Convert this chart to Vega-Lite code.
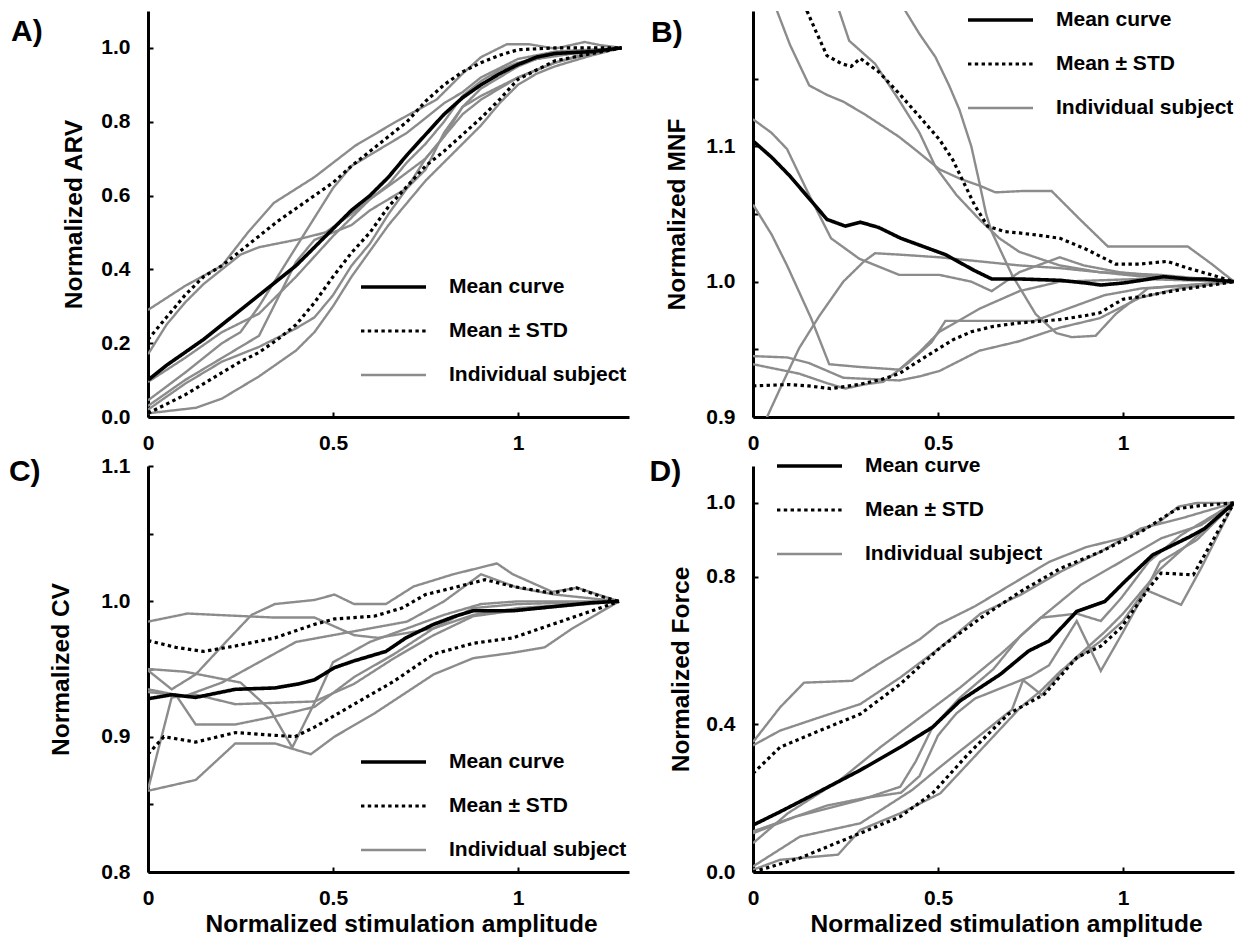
{
  "$schema": "https://vega.github.io/schema/vega-lite/v6.json",
  "padding": {"left": 8, "top": 8, "right": 5, "bottom": 2},
  "background": "white",
  "config": {
    "view": {"stroke": null},
    "font": "Liberation Sans",
    "axis": {"domainColor": "#000000", "domainWidth": 3, "tickColor": "#000000", "tickWidth": 2, "tickSize": -5, "labelFont": "Liberation Sans", "labelFontSize": 21, "labelFontWeight": "bold", "labelColor": "#000000", "titleFont": "Liberation Sans", "titleFontSize": 24.5, "titleFontWeight": "bold", "titleColor": "#000000", "grid": false, "labelFlush": false, "labelOverlap": false},
    "axisX": {"labelPadding": 20},
    "axisY": {"labelPadding": 23},
    "legend": {"symbolType": "stroke", "symbolSize": 4225, "labelFont": "Liberation Sans", "labelFontSize": 21, "labelFontWeight": "bold", "labelColor": "#000000", "labelOffset": 21, "labelLimit": 400, "clipHeight": 24, "rowPadding": 20, "padding": 0, "symbolOpacity": 1}
  },
  "resolve": {"scale": {"color": "independent", "strokeDash": "independent", "strokeWidth": "independent"}},
  "align": "each",
  "columns": 2,
  "spacing": {"row": 1, "column": 20},
  "datasets": {
    "A": [
      {"s":"G1","t":"Individual subject","x":0,"y":0.29},{"s":"G1","t":"Individual subject","x":0.1,"y":0.355},{"s":"G1","t":"Individual subject","x":0.2,"y":0.41},{"s":"G1","t":"Individual subject","x":0.27,"y":0.5},{"s":"G1","t":"Individual subject","x":0.34,"y":0.58},{"s":"G1","t":"Individual subject","x":0.45,"y":0.65},{"s":"G1","t":"Individual subject","x":0.56,"y":0.735},{"s":"G1","t":"Individual subject","x":0.67,"y":0.8},{"s":"G1","t":"Individual subject","x":0.78,"y":0.86},{"s":"G1","t":"Individual subject","x":0.85,"y":0.93},{"s":"G1","t":"Individual subject","x":0.9,"y":0.975},{"s":"G1","t":"Individual subject","x":0.97,"y":1.01},{"s":"G1","t":"Individual subject","x":1.03,"y":1.01},{"s":"G1","t":"Individual subject","x":1.1,"y":0.998},{"s":"G1","t":"Individual subject","x":1.18,"y":1.016},{"s":"G1","t":"Individual subject","x":1.22,"y":1.008},{"s":"G1","t":"Individual subject","x":1.28,"y":1.0},
      {"s":"G2","t":"Individual subject","x":0,"y":0.17},{"s":"G2","t":"Individual subject","x":0.05,"y":0.25},{"s":"G2","t":"Individual subject","x":0.1,"y":0.31},{"s":"G2","t":"Individual subject","x":0.15,"y":0.36},{"s":"G2","t":"Individual subject","x":0.2,"y":0.4},{"s":"G2","t":"Individual subject","x":0.25,"y":0.44},{"s":"G2","t":"Individual subject","x":0.3,"y":0.46},{"s":"G2","t":"Individual subject","x":0.4,"y":0.48},{"s":"G2","t":"Individual subject","x":0.48,"y":0.5},{"s":"G2","t":"Individual subject","x":0.55,"y":0.55},{"s":"G2","t":"Individual subject","x":0.6,"y":0.59},{"s":"G2","t":"Individual subject","x":0.67,"y":0.64},{"s":"G2","t":"Individual subject","x":0.75,"y":0.7},{"s":"G2","t":"Individual subject","x":0.8,"y":0.76},{"s":"G2","t":"Individual subject","x":0.85,"y":0.84},{"s":"G2","t":"Individual subject","x":0.9,"y":0.89},{"s":"G2","t":"Individual subject","x":0.95,"y":0.92},{"s":"G2","t":"Individual subject","x":1.0,"y":0.95},{"s":"G2","t":"Individual subject","x":1.05,"y":0.97},{"s":"G2","t":"Individual subject","x":1.15,"y":0.985},{"s":"G2","t":"Individual subject","x":1.28,"y":1.0},
      {"s":"G3","t":"Individual subject","x":0,"y":0.045},{"s":"G3","t":"Individual subject","x":0.1,"y":0.12},{"s":"G3","t":"Individual subject","x":0.2,"y":0.2},{"s":"G3","t":"Individual subject","x":0.25,"y":0.23},{"s":"G3","t":"Individual subject","x":0.3,"y":0.3},{"s":"G3","t":"Individual subject","x":0.35,"y":0.38},{"s":"G3","t":"Individual subject","x":0.4,"y":0.46},{"s":"G3","t":"Individual subject","x":0.45,"y":0.54},{"s":"G3","t":"Individual subject","x":0.5,"y":0.62},{"s":"G3","t":"Individual subject","x":0.55,"y":0.68},{"s":"G3","t":"Individual subject","x":0.6,"y":0.71},{"s":"G3","t":"Individual subject","x":0.7,"y":0.77},{"s":"G3","t":"Individual subject","x":0.8,"y":0.85},{"s":"G3","t":"Individual subject","x":0.85,"y":0.88},{"s":"G3","t":"Individual subject","x":0.9,"y":0.92},{"s":"G3","t":"Individual subject","x":1.0,"y":0.97},{"s":"G3","t":"Individual subject","x":1.1,"y":0.99},{"s":"G3","t":"Individual subject","x":1.28,"y":1.0},
      {"s":"G4","t":"Individual subject","x":0,"y":0.03},{"s":"G4","t":"Individual subject","x":0.1,"y":0.1},{"s":"G4","t":"Individual subject","x":0.2,"y":0.16},{"s":"G4","t":"Individual subject","x":0.3,"y":0.22},{"s":"G4","t":"Individual subject","x":0.35,"y":0.32},{"s":"G4","t":"Individual subject","x":0.4,"y":0.42},{"s":"G4","t":"Individual subject","x":0.45,"y":0.48},{"s":"G4","t":"Individual subject","x":0.5,"y":0.5},{"s":"G4","t":"Individual subject","x":0.55,"y":0.52},{"s":"G4","t":"Individual subject","x":0.6,"y":0.56},{"s":"G4","t":"Individual subject","x":0.7,"y":0.62},{"s":"G4","t":"Individual subject","x":0.75,"y":0.67},{"s":"G4","t":"Individual subject","x":0.8,"y":0.77},{"s":"G4","t":"Individual subject","x":0.85,"y":0.84},{"s":"G4","t":"Individual subject","x":0.9,"y":0.87},{"s":"G4","t":"Individual subject","x":1.0,"y":0.92},{"s":"G4","t":"Individual subject","x":1.1,"y":0.96},{"s":"G4","t":"Individual subject","x":1.2,"y":0.985},{"s":"G4","t":"Individual subject","x":1.28,"y":1.0},
      {"s":"G5","t":"Individual subject","x":0,"y":0.02},{"s":"G5","t":"Individual subject","x":0.1,"y":0.09},{"s":"G5","t":"Individual subject","x":0.2,"y":0.15},{"s":"G5","t":"Individual subject","x":0.3,"y":0.19},{"s":"G5","t":"Individual subject","x":0.4,"y":0.24},{"s":"G5","t":"Individual subject","x":0.45,"y":0.27},{"s":"G5","t":"Individual subject","x":0.5,"y":0.33},{"s":"G5","t":"Individual subject","x":0.55,"y":0.41},{"s":"G5","t":"Individual subject","x":0.6,"y":0.47},{"s":"G5","t":"Individual subject","x":0.65,"y":0.55},{"s":"G5","t":"Individual subject","x":0.7,"y":0.62},{"s":"G5","t":"Individual subject","x":0.75,"y":0.7},{"s":"G5","t":"Individual subject","x":0.8,"y":0.76},{"s":"G5","t":"Individual subject","x":0.85,"y":0.82},{"s":"G5","t":"Individual subject","x":0.9,"y":0.86},{"s":"G5","t":"Individual subject","x":1.0,"y":0.92},{"s":"G5","t":"Individual subject","x":1.1,"y":0.96},{"s":"G5","t":"Individual subject","x":1.2,"y":0.99},{"s":"G5","t":"Individual subject","x":1.28,"y":1.0},
      {"s":"G6","t":"Individual subject","x":0,"y":0.01},{"s":"G6","t":"Individual subject","x":0.13,"y":0.025},{"s":"G6","t":"Individual subject","x":0.2,"y":0.05},{"s":"G6","t":"Individual subject","x":0.3,"y":0.11},{"s":"G6","t":"Individual subject","x":0.4,"y":0.18},{"s":"G6","t":"Individual subject","x":0.45,"y":0.23},{"s":"G6","t":"Individual subject","x":0.5,"y":0.3},{"s":"G6","t":"Individual subject","x":0.55,"y":0.38},{"s":"G6","t":"Individual subject","x":0.6,"y":0.45},{"s":"G6","t":"Individual subject","x":0.65,"y":0.52},{"s":"G6","t":"Individual subject","x":0.7,"y":0.58},{"s":"G6","t":"Individual subject","x":0.75,"y":0.64},{"s":"G6","t":"Individual subject","x":0.8,"y":0.69},{"s":"G6","t":"Individual subject","x":0.85,"y":0.74},{"s":"G6","t":"Individual subject","x":0.9,"y":0.79},{"s":"G6","t":"Individual subject","x":0.95,"y":0.85},{"s":"G6","t":"Individual subject","x":1.0,"y":0.9},{"s":"G6","t":"Individual subject","x":1.05,"y":0.93},{"s":"G6","t":"Individual subject","x":1.1,"y":0.95},{"s":"G6","t":"Individual subject","x":1.2,"y":0.98},{"s":"G6","t":"Individual subject","x":1.28,"y":1.0},
      {"s":"G7","t":"Individual subject","x":0,"y":0.095},{"s":"G7","t":"Individual subject","x":0.1,"y":0.16},{"s":"G7","t":"Individual subject","x":0.2,"y":0.23},{"s":"G7","t":"Individual subject","x":0.3,"y":0.28},{"s":"G7","t":"Individual subject","x":0.4,"y":0.38},{"s":"G7","t":"Individual subject","x":0.5,"y":0.49},{"s":"G7","t":"Individual subject","x":0.6,"y":0.59},{"s":"G7","t":"Individual subject","x":0.65,"y":0.63},{"s":"G7","t":"Individual subject","x":0.7,"y":0.69},{"s":"G7","t":"Individual subject","x":0.75,"y":0.74},{"s":"G7","t":"Individual subject","x":0.8,"y":0.8},{"s":"G7","t":"Individual subject","x":0.85,"y":0.87},{"s":"G7","t":"Individual subject","x":0.9,"y":0.91},{"s":"G7","t":"Individual subject","x":0.95,"y":0.94},{"s":"G7","t":"Individual subject","x":1.0,"y":0.96},{"s":"G7","t":"Individual subject","x":1.1,"y":0.98},{"s":"G7","t":"Individual subject","x":1.28,"y":1.0},
      {"s":"U","t":"Mean ± STD","x":0,"y":0.21},{"s":"U","t":"Mean ± STD","x":0.05,"y":0.27},{"s":"U","t":"Mean ± STD","x":0.1,"y":0.33},{"s":"U","t":"Mean ± STD","x":0.15,"y":0.38},{"s":"U","t":"Mean ± STD","x":0.2,"y":0.41},{"s":"U","t":"Mean ± STD","x":0.25,"y":0.45},{"s":"U","t":"Mean ± STD","x":0.3,"y":0.49},{"s":"U","t":"Mean ± STD","x":0.35,"y":0.53},{"s":"U","t":"Mean ± STD","x":0.4,"y":0.565},{"s":"U","t":"Mean ± STD","x":0.45,"y":0.6},{"s":"U","t":"Mean ± STD","x":0.5,"y":0.635},{"s":"U","t":"Mean ± STD","x":0.55,"y":0.68},{"s":"U","t":"Mean ± STD","x":0.6,"y":0.72},{"s":"U","t":"Mean ± STD","x":0.65,"y":0.76},{"s":"U","t":"Mean ± STD","x":0.7,"y":0.8},{"s":"U","t":"Mean ± STD","x":0.75,"y":0.855},{"s":"U","t":"Mean ± STD","x":0.8,"y":0.9},{"s":"U","t":"Mean ± STD","x":0.85,"y":0.935},{"s":"U","t":"Mean ± STD","x":0.9,"y":0.96},{"s":"U","t":"Mean ± STD","x":0.95,"y":0.98},{"s":"U","t":"Mean ± STD","x":1.0,"y":0.995},{"s":"U","t":"Mean ± STD","x":1.1,"y":1.0},{"s":"U","t":"Mean ± STD","x":1.2,"y":1.0},{"s":"U","t":"Mean ± STD","x":1.28,"y":1.0},
      {"s":"L","t":"Mean ± STD","x":0,"y":0.01},{"s":"L","t":"Mean ± STD","x":0.05,"y":0.035},{"s":"L","t":"Mean ± STD","x":0.1,"y":0.06},{"s":"L","t":"Mean ± STD","x":0.15,"y":0.09},{"s":"L","t":"Mean ± STD","x":0.2,"y":0.12},{"s":"L","t":"Mean ± STD","x":0.25,"y":0.15},{"s":"L","t":"Mean ± STD","x":0.3,"y":0.175},{"s":"L","t":"Mean ± STD","x":0.35,"y":0.21},{"s":"L","t":"Mean ± STD","x":0.4,"y":0.25},{"s":"L","t":"Mean ± STD","x":0.45,"y":0.31},{"s":"L","t":"Mean ± STD","x":0.5,"y":0.38},{"s":"L","t":"Mean ± STD","x":0.55,"y":0.445},{"s":"L","t":"Mean ± STD","x":0.6,"y":0.5},{"s":"L","t":"Mean ± STD","x":0.65,"y":0.57},{"s":"L","t":"Mean ± STD","x":0.7,"y":0.625},{"s":"L","t":"Mean ± STD","x":0.75,"y":0.68},{"s":"L","t":"Mean ± STD","x":0.8,"y":0.72},{"s":"L","t":"Mean ± STD","x":0.85,"y":0.765},{"s":"L","t":"Mean ± STD","x":0.9,"y":0.81},{"s":"L","t":"Mean ± STD","x":0.95,"y":0.86},{"s":"L","t":"Mean ± STD","x":1.0,"y":0.915},{"s":"L","t":"Mean ± STD","x":1.05,"y":0.94},{"s":"L","t":"Mean ± STD","x":1.1,"y":0.965},{"s":"L","t":"Mean ± STD","x":1.2,"y":0.985},{"s":"L","t":"Mean ± STD","x":1.28,"y":1.0},
      {"s":"M","t":"Mean curve","x":0,"y":0.1},{"s":"M","t":"Mean curve","x":0.05,"y":0.14},{"s":"M","t":"Mean curve","x":0.1,"y":0.175},{"s":"M","t":"Mean curve","x":0.15,"y":0.21},{"s":"M","t":"Mean curve","x":0.2,"y":0.25},{"s":"M","t":"Mean curve","x":0.25,"y":0.29},{"s":"M","t":"Mean curve","x":0.3,"y":0.33},{"s":"M","t":"Mean curve","x":0.35,"y":0.37},{"s":"M","t":"Mean curve","x":0.4,"y":0.41},{"s":"M","t":"Mean curve","x":0.45,"y":0.46},{"s":"M","t":"Mean curve","x":0.5,"y":0.51},{"s":"M","t":"Mean curve","x":0.55,"y":0.56},{"s":"M","t":"Mean curve","x":0.6,"y":0.6},{"s":"M","t":"Mean curve","x":0.65,"y":0.65},{"s":"M","t":"Mean curve","x":0.7,"y":0.71},{"s":"M","t":"Mean curve","x":0.75,"y":0.765},{"s":"M","t":"Mean curve","x":0.8,"y":0.82},{"s":"M","t":"Mean curve","x":0.85,"y":0.865},{"s":"M","t":"Mean curve","x":0.9,"y":0.9},{"s":"M","t":"Mean curve","x":0.95,"y":0.93},{"s":"M","t":"Mean curve","x":1.0,"y":0.955},{"s":"M","t":"Mean curve","x":1.05,"y":0.975},{"s":"M","t":"Mean curve","x":1.1,"y":0.985},{"s":"M","t":"Mean curve","x":1.2,"y":0.99},{"s":"M","t":"Mean curve","x":1.28,"y":1.0}
    ],
    "B": [
      {"s":"G1","t":"Individual subject","x":0.04,"y":1.25},{"s":"G1","t":"Individual subject","x":0.065,"y":1.2},{"s":"G1","t":"Individual subject","x":0.1,"y":1.175},{"s":"G1","t":"Individual subject","x":0.152,"y":1.145},{"s":"G1","t":"Individual subject","x":0.2,"y":1.138},{"s":"G1","t":"Individual subject","x":0.244,"y":1.133},{"s":"G1","t":"Individual subject","x":0.3,"y":1.124},{"s":"G1","t":"Individual subject","x":0.395,"y":1.107},{"s":"G1","t":"Individual subject","x":0.45,"y":1.095},{"s":"G1","t":"Individual subject","x":0.504,"y":1.083},{"s":"G1","t":"Individual subject","x":0.56,"y":1.076},{"s":"G1","t":"Individual subject","x":0.612,"y":1.071},{"s":"G1","t":"Individual subject","x":0.655,"y":1.066},{"s":"G1","t":"Individual subject","x":0.73,"y":1.067},{"s":"G1","t":"Individual subject","x":0.807,"y":1.067},{"s":"G1","t":"Individual subject","x":0.88,"y":1.047},{"s":"G1","t":"Individual subject","x":0.959,"y":1.026},{"s":"G1","t":"Individual subject","x":1.05,"y":1.026},{"s":"G1","t":"Individual subject","x":1.175,"y":1.026},{"s":"G1","t":"Individual subject","x":1.24,"y":1.013},{"s":"G1","t":"Individual subject","x":1.3,"y":1.0},
      {"s":"G2","t":"Individual subject","x":0.21,"y":1.25},{"s":"G2","t":"Individual subject","x":0.233,"y":1.2},{"s":"G2","t":"Individual subject","x":0.26,"y":1.178},{"s":"G2","t":"Individual subject","x":0.33,"y":1.161},{"s":"G2","t":"Individual subject","x":0.395,"y":1.134},{"s":"G2","t":"Individual subject","x":0.45,"y":1.11},{"s":"G2","t":"Individual subject","x":0.493,"y":1.085},{"s":"G2","t":"Individual subject","x":0.55,"y":1.064},{"s":"G2","t":"Individual subject","x":0.612,"y":1.046},{"s":"G2","t":"Individual subject","x":0.666,"y":1.032},{"s":"G2","t":"Individual subject","x":0.72,"y":1.022},{"s":"G2","t":"Individual subject","x":0.829,"y":1.012},{"s":"G2","t":"Individual subject","x":0.937,"y":1.007},{"s":"G2","t":"Individual subject","x":1.045,"y":1.004},{"s":"G2","t":"Individual subject","x":1.3,"y":1.0},
      {"s":"G3","t":"Individual subject","x":0.39,"y":1.25},{"s":"G3","t":"Individual subject","x":0.412,"y":1.2},{"s":"G3","t":"Individual subject","x":0.45,"y":1.183},{"s":"G3","t":"Individual subject","x":0.493,"y":1.166},{"s":"G3","t":"Individual subject","x":0.53,"y":1.145},{"s":"G3","t":"Individual subject","x":0.558,"y":1.127},{"s":"G3","t":"Individual subject","x":0.59,"y":1.1},{"s":"G3","t":"Individual subject","x":0.612,"y":1.073},{"s":"G3","t":"Individual subject","x":0.63,"y":1.05},{"s":"G3","t":"Individual subject","x":0.645,"y":1.037},{"s":"G3","t":"Individual subject","x":0.7,"y":1.005},{"s":"G3","t":"Individual subject","x":0.764,"y":0.976},{"s":"G3","t":"Individual subject","x":0.82,"y":0.962},{"s":"G3","t":"Individual subject","x":0.861,"y":0.959},{"s":"G3","t":"Individual subject","x":0.926,"y":0.96},{"s":"G3","t":"Individual subject","x":0.98,"y":0.976},{"s":"G3","t":"Individual subject","x":1.067,"y":0.995},{"s":"G3","t":"Individual subject","x":1.3,"y":1.0},
      {"s":"G4","t":"Individual subject","x":0,"y":1.12},{"s":"G4","t":"Individual subject","x":0.05,"y":1.11},{"s":"G4","t":"Individual subject","x":0.092,"y":1.098},{"s":"G4","t":"Individual subject","x":0.15,"y":1.065},{"s":"G4","t":"Individual subject","x":0.211,"y":1.032},{"s":"G4","t":"Individual subject","x":0.287,"y":1.017},{"s":"G4","t":"Individual subject","x":0.395,"y":1.005},{"s":"G4","t":"Individual subject","x":0.504,"y":1.005},{"s":"G4","t":"Individual subject","x":0.59,"y":1.0},{"s":"G4","t":"Individual subject","x":0.645,"y":0.993},{"s":"G4","t":"Individual subject","x":0.72,"y":1.007},{"s":"G4","t":"Individual subject","x":0.829,"y":1.018},{"s":"G4","t":"Individual subject","x":0.894,"y":1.012},{"s":"G4","t":"Individual subject","x":0.99,"y":1.007},{"s":"G4","t":"Individual subject","x":1.1,"y":1.004},{"s":"G4","t":"Individual subject","x":1.3,"y":1.0},
      {"s":"G5","t":"Individual subject","x":0,"y":1.057},{"s":"G5","t":"Individual subject","x":0.05,"y":1.035},{"s":"G5","t":"Individual subject","x":0.092,"y":1.012},{"s":"G5","t":"Individual subject","x":0.157,"y":0.973},{"s":"G5","t":"Individual subject","x":0.206,"y":0.939},{"s":"G5","t":"Individual subject","x":0.287,"y":0.937},{"s":"G5","t":"Individual subject","x":0.395,"y":0.935},{"s":"G5","t":"Individual subject","x":0.45,"y":0.948},{"s":"G5","t":"Individual subject","x":0.504,"y":0.963},{"s":"G5","t":"Individual subject","x":0.612,"y":0.98},{"s":"G5","t":"Individual subject","x":0.72,"y":0.993},{"s":"G5","t":"Individual subject","x":0.829,"y":1.0},{"s":"G5","t":"Individual subject","x":1.045,"y":1.002},{"s":"G5","t":"Individual subject","x":1.3,"y":1.0},
      {"s":"G6","t":"Individual subject","x":0.03,"y":0.89},{"s":"G6","t":"Individual subject","x":0.038,"y":0.9},{"s":"G6","t":"Individual subject","x":0.08,"y":0.925},{"s":"G6","t":"Individual subject","x":0.125,"y":0.951},{"s":"G6","t":"Individual subject","x":0.18,"y":0.975},{"s":"G6","t":"Individual subject","x":0.244,"y":1.0},{"s":"G6","t":"Individual subject","x":0.3,"y":1.015},{"s":"G6","t":"Individual subject","x":0.33,"y":1.021},{"s":"G6","t":"Individual subject","x":0.395,"y":1.02},{"s":"G6","t":"Individual subject","x":0.504,"y":1.018},{"s":"G6","t":"Individual subject","x":0.612,"y":1.015},{"s":"G6","t":"Individual subject","x":0.72,"y":1.012},{"s":"G6","t":"Individual subject","x":0.829,"y":1.01},{"s":"G6","t":"Individual subject","x":0.937,"y":1.007},{"s":"G6","t":"Individual subject","x":1.1,"y":1.005},{"s":"G6","t":"Individual subject","x":1.3,"y":1.0},
      {"s":"G7","t":"Individual subject","x":0,"y":0.945},{"s":"G7","t":"Individual subject","x":0.092,"y":0.944},{"s":"G7","t":"Individual subject","x":0.15,"y":0.94},{"s":"G7","t":"Individual subject","x":0.244,"y":0.929},{"s":"G7","t":"Individual subject","x":0.395,"y":0.927},{"s":"G7","t":"Individual subject","x":0.45,"y":0.93},{"s":"G7","t":"Individual subject","x":0.504,"y":0.934},{"s":"G7","t":"Individual subject","x":0.612,"y":0.949},{"s":"G7","t":"Individual subject","x":0.72,"y":0.956},{"s":"G7","t":"Individual subject","x":0.829,"y":0.966},{"s":"G7","t":"Individual subject","x":0.937,"y":0.973},{"s":"G7","t":"Individual subject","x":1.045,"y":0.988},{"s":"G7","t":"Individual subject","x":1.15,"y":0.995},{"s":"G7","t":"Individual subject","x":1.3,"y":1.0},
      {"s":"G8","t":"Individual subject","x":0,"y":0.939},{"s":"G8","t":"Individual subject","x":0.125,"y":0.932},{"s":"G8","t":"Individual subject","x":0.2,"y":0.925},{"s":"G8","t":"Individual subject","x":0.249,"y":0.921},{"s":"G8","t":"Individual subject","x":0.3,"y":0.924},{"s":"G8","t":"Individual subject","x":0.352,"y":0.926},{"s":"G8","t":"Individual subject","x":0.42,"y":0.94},{"s":"G8","t":"Individual subject","x":0.482,"y":0.955},{"s":"G8","t":"Individual subject","x":0.52,"y":0.971},{"s":"G8","t":"Individual subject","x":0.6,"y":0.971},{"s":"G8","t":"Individual subject","x":0.76,"y":0.971},{"s":"G8","t":"Individual subject","x":0.85,"y":0.98},{"s":"G8","t":"Individual subject","x":0.95,"y":0.99},{"s":"G8","t":"Individual subject","x":1.05,"y":0.995},{"s":"G8","t":"Individual subject","x":1.3,"y":1.0},
      {"s":"U","t":"Mean ± STD","x":0.125,"y":1.25},{"s":"U","t":"Mean ± STD","x":0.146,"y":1.2},{"s":"U","t":"Mean ± STD","x":0.17,"y":1.185},{"s":"U","t":"Mean ± STD","x":0.2,"y":1.167},{"s":"U","t":"Mean ± STD","x":0.24,"y":1.161},{"s":"U","t":"Mean ± STD","x":0.265,"y":1.159},{"s":"U","t":"Mean ± STD","x":0.29,"y":1.165},{"s":"U","t":"Mean ± STD","x":0.34,"y":1.155},{"s":"U","t":"Mean ± STD","x":0.395,"y":1.139},{"s":"U","t":"Mean ± STD","x":0.45,"y":1.122},{"s":"U","t":"Mean ± STD","x":0.504,"y":1.105},{"s":"U","t":"Mean ± STD","x":0.54,"y":1.09},{"s":"U","t":"Mean ± STD","x":0.57,"y":1.073},{"s":"U","t":"Mean ± STD","x":0.6,"y":1.056},{"s":"U","t":"Mean ± STD","x":0.634,"y":1.041},{"s":"U","t":"Mean ± STD","x":0.68,"y":1.037},{"s":"U","t":"Mean ± STD","x":0.72,"y":1.036},{"s":"U","t":"Mean ± STD","x":0.78,"y":1.034},{"s":"U","t":"Mean ± STD","x":0.83,"y":1.032},{"s":"U","t":"Mean ± STD","x":0.9,"y":1.024},{"s":"U","t":"Mean ± STD","x":0.98,"y":1.013},{"s":"U","t":"Mean ± STD","x":1.045,"y":1.013},{"s":"U","t":"Mean ± STD","x":1.12,"y":1.015},{"s":"U","t":"Mean ± STD","x":1.175,"y":1.01},{"s":"U","t":"Mean ± STD","x":1.24,"y":1.005},{"s":"U","t":"Mean ± STD","x":1.3,"y":1.0},
      {"s":"L","t":"Mean ± STD","x":0,"y":0.923},{"s":"L","t":"Mean ± STD","x":0.1,"y":0.924},{"s":"L","t":"Mean ± STD","x":0.15,"y":0.923},{"s":"L","t":"Mean ± STD","x":0.21,"y":0.921},{"s":"L","t":"Mean ± STD","x":0.287,"y":0.924},{"s":"L","t":"Mean ± STD","x":0.35,"y":0.928},{"s":"L","t":"Mean ± STD","x":0.395,"y":0.932},{"s":"L","t":"Mean ± STD","x":0.44,"y":0.94},{"s":"L","t":"Mean ± STD","x":0.493,"y":0.949},{"s":"L","t":"Mean ± STD","x":0.54,"y":0.957},{"s":"L","t":"Mean ± STD","x":0.59,"y":0.963},{"s":"L","t":"Mean ± STD","x":0.65,"y":0.967},{"s":"L","t":"Mean ± STD","x":0.72,"y":0.9695},{"s":"L","t":"Mean ± STD","x":0.829,"y":0.972},{"s":"L","t":"Mean ± STD","x":0.9,"y":0.975},{"s":"L","t":"Mean ± STD","x":0.937,"y":0.977},{"s":"L","t":"Mean ± STD","x":1.0,"y":0.987},{"s":"L","t":"Mean ± STD","x":1.05,"y":0.989},{"s":"L","t":"Mean ± STD","x":1.154,"y":0.994},{"s":"L","t":"Mean ± STD","x":1.3,"y":1.0},
      {"s":"M","t":"Mean curve","x":0,"y":1.104},{"s":"M","t":"Mean curve","x":0.05,"y":1.092},{"s":"M","t":"Mean curve","x":0.1,"y":1.078},{"s":"M","t":"Mean curve","x":0.15,"y":1.062},{"s":"M","t":"Mean curve","x":0.2,"y":1.046},{"s":"M","t":"Mean curve","x":0.25,"y":1.041},{"s":"M","t":"Mean curve","x":0.29,"y":1.044},{"s":"M","t":"Mean curve","x":0.34,"y":1.04},{"s":"M","t":"Mean curve","x":0.4,"y":1.032},{"s":"M","t":"Mean curve","x":0.48,"y":1.024},{"s":"M","t":"Mean curve","x":0.52,"y":1.02},{"s":"M","t":"Mean curve","x":0.56,"y":1.014},{"s":"M","t":"Mean curve","x":0.6,"y":1.008},{"s":"M","t":"Mean curve","x":0.645,"y":1.002},{"s":"M","t":"Mean curve","x":0.72,"y":1.002},{"s":"M","t":"Mean curve","x":0.83,"y":1.001},{"s":"M","t":"Mean curve","x":0.9,"y":0.999},{"s":"M","t":"Mean curve","x":0.94,"y":0.9975},{"s":"M","t":"Mean curve","x":1.0,"y":0.999},{"s":"M","t":"Mean curve","x":1.05,"y":1.001},{"s":"M","t":"Mean curve","x":1.11,"y":1.0037},{"s":"M","t":"Mean curve","x":1.175,"y":1.002},{"s":"M","t":"Mean curve","x":1.22,"y":1.002},{"s":"M","t":"Mean curve","x":1.3,"y":1.0}
    ],
    "C": [
      {"s":"G1","t":"Individual subject","x":0,"y":0.985},{"s":"G1","t":"Individual subject","x":0.107,"y":0.991},{"s":"G1","t":"Individual subject","x":0.182,"y":0.99},{"s":"G1","t":"Individual subject","x":0.343,"y":0.988},{"s":"G1","t":"Individual subject","x":0.45,"y":0.988},{"s":"G1","t":"Individual subject","x":0.557,"y":0.975},{"s":"G1","t":"Individual subject","x":0.622,"y":0.973},{"s":"G1","t":"Individual subject","x":0.772,"y":0.98},{"s":"G1","t":"Individual subject","x":0.879,"y":0.99},{"s":"G1","t":"Individual subject","x":1.0,"y":0.995},{"s":"G1","t":"Individual subject","x":1.273,"y":1.0},
      {"s":"G2","t":"Individual subject","x":0,"y":0.949},{"s":"G2","t":"Individual subject","x":0.064,"y":0.935},{"s":"G2","t":"Individual subject","x":0.129,"y":0.946},{"s":"G2","t":"Individual subject","x":0.214,"y":0.971},{"s":"G2","t":"Individual subject","x":0.28,"y":0.99},{"s":"G2","t":"Individual subject","x":0.343,"y":0.998},{"s":"G2","t":"Individual subject","x":0.45,"y":1.001},{"s":"G2","t":"Individual subject","x":0.504,"y":1.005},{"s":"G2","t":"Individual subject","x":0.557,"y":0.998},{"s":"G2","t":"Individual subject","x":0.643,"y":0.998},{"s":"G2","t":"Individual subject","x":0.718,"y":1.011},{"s":"G2","t":"Individual subject","x":0.825,"y":1.02},{"s":"G2","t":"Individual subject","x":0.943,"y":1.028},{"s":"G2","t":"Individual subject","x":0.986,"y":1.02},{"s":"G2","t":"Individual subject","x":1.093,"y":1.007},{"s":"G2","t":"Individual subject","x":1.16,"y":1.01},{"s":"G2","t":"Individual subject","x":1.273,"y":1.0},
      {"s":"G3","t":"Individual subject","x":0,"y":0.95},{"s":"G3","t":"Individual subject","x":0.1,"y":0.948},{"s":"G3","t":"Individual subject","x":0.25,"y":0.94},{"s":"G3","t":"Individual subject","x":0.33,"y":0.92},{"s":"G3","t":"Individual subject","x":0.39,"y":0.892},{"s":"G3","t":"Individual subject","x":0.45,"y":0.925},{"s":"G3","t":"Individual subject","x":0.5,"y":0.955},{"s":"G3","t":"Individual subject","x":0.6,"y":0.97},{"s":"G3","t":"Individual subject","x":0.7,"y":0.98},{"s":"G3","t":"Individual subject","x":0.8,"y":0.99},{"s":"G3","t":"Individual subject","x":0.9,"y":0.998},{"s":"G3","t":"Individual subject","x":1.0,"y":1.0},{"s":"G3","t":"Individual subject","x":1.273,"y":1.0},
      {"s":"G4","t":"Individual subject","x":0,"y":0.935},{"s":"G4","t":"Individual subject","x":0.075,"y":0.931},{"s":"G4","t":"Individual subject","x":0.129,"y":0.909},{"s":"G4","t":"Individual subject","x":0.236,"y":0.909},{"s":"G4","t":"Individual subject","x":0.343,"y":0.915},{"s":"G4","t":"Individual subject","x":0.45,"y":0.922},{"s":"G4","t":"Individual subject","x":0.557,"y":0.944},{"s":"G4","t":"Individual subject","x":0.665,"y":0.961},{"s":"G4","t":"Individual subject","x":0.772,"y":0.98},{"s":"G4","t":"Individual subject","x":0.879,"y":0.995},{"s":"G4","t":"Individual subject","x":1.0,"y":0.998},{"s":"G4","t":"Individual subject","x":1.273,"y":1.0},
      {"s":"G5","t":"Individual subject","x":0,"y":0.861},{"s":"G5","t":"Individual subject","x":0.064,"y":0.929},{"s":"G5","t":"Individual subject","x":0.129,"y":0.931},{"s":"G5","t":"Individual subject","x":0.236,"y":0.924},{"s":"G5","t":"Individual subject","x":0.343,"y":0.925},{"s":"G5","t":"Individual subject","x":0.45,"y":0.926},{"s":"G5","t":"Individual subject","x":0.557,"y":0.939},{"s":"G5","t":"Individual subject","x":0.665,"y":0.958},{"s":"G5","t":"Individual subject","x":0.772,"y":0.975},{"s":"G5","t":"Individual subject","x":0.879,"y":0.989},{"s":"G5","t":"Individual subject","x":0.986,"y":0.993},{"s":"G5","t":"Individual subject","x":1.273,"y":1.0},
      {"s":"G6","t":"Individual subject","x":0,"y":0.86},{"s":"G6","t":"Individual subject","x":0.129,"y":0.868},{"s":"G6","t":"Individual subject","x":0.236,"y":0.895},{"s":"G6","t":"Individual subject","x":0.343,"y":0.895},{"s":"G6","t":"Individual subject","x":0.391,"y":0.891},{"s":"G6","t":"Individual subject","x":0.44,"y":0.887},{"s":"G6","t":"Individual subject","x":0.504,"y":0.9},{"s":"G6","t":"Individual subject","x":0.611,"y":0.917},{"s":"G6","t":"Individual subject","x":0.772,"y":0.946},{"s":"G6","t":"Individual subject","x":0.879,"y":0.958},{"s":"G6","t":"Individual subject","x":0.986,"y":0.962},{"s":"G6","t":"Individual subject","x":1.072,"y":0.966},{"s":"G6","t":"Individual subject","x":1.147,"y":0.98},{"s":"G6","t":"Individual subject","x":1.273,"y":1.0},
      {"s":"G7","t":"Individual subject","x":0,"y":0.933},{"s":"G7","t":"Individual subject","x":0.1,"y":0.93},{"s":"G7","t":"Individual subject","x":0.2,"y":0.94},{"s":"G7","t":"Individual subject","x":0.3,"y":0.955},{"s":"G7","t":"Individual subject","x":0.4,"y":0.97},{"s":"G7","t":"Individual subject","x":0.5,"y":0.975},{"s":"G7","t":"Individual subject","x":0.6,"y":0.98},{"s":"G7","t":"Individual subject","x":0.7,"y":0.985},{"s":"G7","t":"Individual subject","x":0.8,"y":1.0},{"s":"G7","t":"Individual subject","x":0.9,"y":1.02},{"s":"G7","t":"Individual subject","x":1.0,"y":1.01},{"s":"G7","t":"Individual subject","x":1.1,"y":1.005},{"s":"G7","t":"Individual subject","x":1.273,"y":1.0},
      {"s":"U","t":"Mean ± STD","x":0,"y":0.971},{"s":"U","t":"Mean ± STD","x":0.075,"y":0.966},{"s":"U","t":"Mean ± STD","x":0.15,"y":0.963},{"s":"U","t":"Mean ± STD","x":0.236,"y":0.967},{"s":"U","t":"Mean ± STD","x":0.343,"y":0.973},{"s":"U","t":"Mean ± STD","x":0.45,"y":0.983},{"s":"U","t":"Mean ± STD","x":0.504,"y":0.987},{"s":"U","t":"Mean ± STD","x":0.611,"y":0.989},{"s":"U","t":"Mean ± STD","x":0.686,"y":0.995},{"s":"U","t":"Mean ± STD","x":0.75,"y":1.005},{"s":"U","t":"Mean ± STD","x":0.825,"y":1.01},{"s":"U","t":"Mean ± STD","x":0.911,"y":1.016},{"s":"U","t":"Mean ± STD","x":0.986,"y":1.011},{"s":"U","t":"Mean ± STD","x":1.093,"y":1.006},{"s":"U","t":"Mean ± STD","x":1.158,"y":1.01},{"s":"U","t":"Mean ± STD","x":1.22,"y":1.004},{"s":"U","t":"Mean ± STD","x":1.273,"y":1.0},
      {"s":"L","t":"Mean ± STD","x":0,"y":0.887},{"s":"L","t":"Mean ± STD","x":0.043,"y":0.9},{"s":"L","t":"Mean ± STD","x":0.129,"y":0.896},{"s":"L","t":"Mean ± STD","x":0.236,"y":0.903},{"s":"L","t":"Mean ± STD","x":0.343,"y":0.901},{"s":"L","t":"Mean ± STD","x":0.397,"y":0.9},{"s":"L","t":"Mean ± STD","x":0.45,"y":0.907},{"s":"L","t":"Mean ± STD","x":0.557,"y":0.924},{"s":"L","t":"Mean ± STD","x":0.665,"y":0.941},{"s":"L","t":"Mean ± STD","x":0.772,"y":0.961},{"s":"L","t":"Mean ± STD","x":0.879,"y":0.969},{"s":"L","t":"Mean ± STD","x":0.986,"y":0.973},{"s":"L","t":"Mean ± STD","x":1.093,"y":0.983},{"s":"L","t":"Mean ± STD","x":1.2,"y":0.993},{"s":"L","t":"Mean ± STD","x":1.273,"y":1.0},
      {"s":"M","t":"Mean curve","x":0,"y":0.928},{"s":"M","t":"Mean curve","x":0.064,"y":0.931},{"s":"M","t":"Mean curve","x":0.129,"y":0.929},{"s":"M","t":"Mean curve","x":0.2,"y":0.933},{"s":"M","t":"Mean curve","x":0.236,"y":0.935},{"s":"M","t":"Mean curve","x":0.343,"y":0.936},{"s":"M","t":"Mean curve","x":0.407,"y":0.939},{"s":"M","t":"Mean curve","x":0.45,"y":0.942},{"s":"M","t":"Mean curve","x":0.504,"y":0.951},{"s":"M","t":"Mean curve","x":0.557,"y":0.956},{"s":"M","t":"Mean curve","x":0.643,"y":0.963},{"s":"M","t":"Mean curve","x":0.697,"y":0.973},{"s":"M","t":"Mean curve","x":0.772,"y":0.983},{"s":"M","t":"Mean curve","x":0.83,"y":0.989},{"s":"M","t":"Mean curve","x":0.879,"y":0.993},{"s":"M","t":"Mean curve","x":0.986,"y":0.993},{"s":"M","t":"Mean curve","x":1.093,"y":0.996},{"s":"M","t":"Mean curve","x":1.2,"y":0.999},{"s":"M","t":"Mean curve","x":1.273,"y":1.0}
    ],
    "D": [
      {"s":"G1","t":"Individual subject","x":0,"y":0.352},{"s":"G1","t":"Individual subject","x":0.073,"y":0.446},{"s":"G1","t":"Individual subject","x":0.138,"y":0.513},{"s":"G1","t":"Individual subject","x":0.268,"y":0.518},{"s":"G1","t":"Individual subject","x":0.35,"y":0.57},{"s":"G1","t":"Individual subject","x":0.45,"y":0.63},{"s":"G1","t":"Individual subject","x":0.5,"y":0.67},{"s":"G1","t":"Individual subject","x":0.6,"y":0.72},{"s":"G1","t":"Individual subject","x":0.7,"y":0.78},{"s":"G1","t":"Individual subject","x":0.8,"y":0.84},{"s":"G1","t":"Individual subject","x":0.9,"y":0.88},{"s":"G1","t":"Individual subject","x":1.0,"y":0.905},{"s":"G1","t":"Individual subject","x":1.05,"y":0.925},{"s":"G1","t":"Individual subject","x":1.1,"y":0.95},{"s":"G1","t":"Individual subject","x":1.15,"y":0.99},{"s":"G1","t":"Individual subject","x":1.2,"y":1.0},{"s":"G1","t":"Individual subject","x":1.3,"y":1.0},
      {"s":"G2","t":"Individual subject","x":0,"y":0.343},{"s":"G2","t":"Individual subject","x":0.073,"y":0.383},{"s":"G2","t":"Individual subject","x":0.18,"y":0.419},{"s":"G2","t":"Individual subject","x":0.29,"y":0.455},{"s":"G2","t":"Individual subject","x":0.398,"y":0.527},{"s":"G2","t":"Individual subject","x":0.506,"y":0.608},{"s":"G2","t":"Individual subject","x":0.615,"y":0.7},{"s":"G2","t":"Individual subject","x":0.723,"y":0.751},{"s":"G2","t":"Individual subject","x":0.832,"y":0.814},{"s":"G2","t":"Individual subject","x":0.94,"y":0.868},{"s":"G2","t":"Individual subject","x":1.049,"y":0.931},{"s":"G2","t":"Individual subject","x":1.157,"y":0.958},{"s":"G2","t":"Individual subject","x":1.3,"y":1.0},
      {"s":"G3","t":"Individual subject","x":0,"y":0.078},{"s":"G3","t":"Individual subject","x":0.094,"y":0.159},{"s":"G3","t":"Individual subject","x":0.235,"y":0.249},{"s":"G3","t":"Individual subject","x":0.344,"y":0.338},{"s":"G3","t":"Individual subject","x":0.452,"y":0.419},{"s":"G3","t":"Individual subject","x":0.56,"y":0.5},{"s":"G3","t":"Individual subject","x":0.669,"y":0.59},{"s":"G3","t":"Individual subject","x":0.778,"y":0.689},{"s":"G3","t":"Individual subject","x":0.886,"y":0.778},{"s":"G3","t":"Individual subject","x":0.995,"y":0.841},{"s":"G3","t":"Individual subject","x":1.103,"y":0.904},{"s":"G3","t":"Individual subject","x":1.211,"y":0.94},{"s":"G3","t":"Individual subject","x":1.3,"y":1.0},
      {"s":"G4","t":"Individual subject","x":0,"y":0.105},{"s":"G4","t":"Individual subject","x":0.116,"y":0.15},{"s":"G4","t":"Individual subject","x":0.29,"y":0.195},{"s":"G4","t":"Individual subject","x":0.398,"y":0.231},{"s":"G4","t":"Individual subject","x":0.44,"y":0.3},{"s":"G4","t":"Individual subject","x":0.485,"y":0.392},{"s":"G4","t":"Individual subject","x":0.56,"y":0.473},{"s":"G4","t":"Individual subject","x":0.65,"y":0.55},{"s":"G4","t":"Individual subject","x":0.723,"y":0.64},{"s":"G4","t":"Individual subject","x":0.778,"y":0.689},{"s":"G4","t":"Individual subject","x":0.875,"y":0.7},{"s":"G4","t":"Individual subject","x":0.94,"y":0.68},{"s":"G4","t":"Individual subject","x":0.995,"y":0.742},{"s":"G4","t":"Individual subject","x":1.07,"y":0.841},{"s":"G4","t":"Individual subject","x":1.157,"y":0.913},{"s":"G4","t":"Individual subject","x":1.3,"y":1.0},
      {"s":"G5","t":"Individual subject","x":0,"y":0.11},{"s":"G5","t":"Individual subject","x":0.1,"y":0.145},{"s":"G5","t":"Individual subject","x":0.2,"y":0.18},{"s":"G5","t":"Individual subject","x":0.3,"y":0.2},{"s":"G5","t":"Individual subject","x":0.4,"y":0.215},{"s":"G5","t":"Individual subject","x":0.45,"y":0.26},{"s":"G5","t":"Individual subject","x":0.5,"y":0.37},{"s":"G5","t":"Individual subject","x":0.55,"y":0.43},{"s":"G5","t":"Individual subject","x":0.6,"y":0.47},{"s":"G5","t":"Individual subject","x":0.7,"y":0.51},{"s":"G5","t":"Individual subject","x":0.75,"y":0.53},{"s":"G5","t":"Individual subject","x":0.8,"y":0.56},{"s":"G5","t":"Individual subject","x":0.875,"y":0.68},{"s":"G5","t":"Individual subject","x":0.94,"y":0.545},{"s":"G5","t":"Individual subject","x":1.0,"y":0.65},{"s":"G5","t":"Individual subject","x":1.06,"y":0.76},{"s":"G5","t":"Individual subject","x":1.1,"y":0.84},{"s":"G5","t":"Individual subject","x":1.2,"y":0.9},{"s":"G5","t":"Individual subject","x":1.3,"y":1.0},
      {"s":"G6","t":"Individual subject","x":0,"y":0.015},{"s":"G6","t":"Individual subject","x":0.127,"y":0.096},{"s":"G6","t":"Individual subject","x":0.29,"y":0.132},{"s":"G6","t":"Individual subject","x":0.43,"y":0.222},{"s":"G6","t":"Individual subject","x":0.5,"y":0.28},{"s":"G6","t":"Individual subject","x":0.6,"y":0.36},{"s":"G6","t":"Individual subject","x":0.7,"y":0.44},{"s":"G6","t":"Individual subject","x":0.73,"y":0.52},{"s":"G6","t":"Individual subject","x":0.78,"y":0.48},{"s":"G6","t":"Individual subject","x":0.85,"y":0.56},{"s":"G6","t":"Individual subject","x":0.95,"y":0.65},{"s":"G6","t":"Individual subject","x":1.0,"y":0.7},{"s":"G6","t":"Individual subject","x":1.1,"y":0.82},{"s":"G6","t":"Individual subject","x":1.3,"y":1.0},
      {"s":"G7","t":"Individual subject","x":0,"y":0.006},{"s":"G7","t":"Individual subject","x":0.073,"y":0.033},{"s":"G7","t":"Individual subject","x":0.23,"y":0.047},{"s":"G7","t":"Individual subject","x":0.29,"y":0.114},{"s":"G7","t":"Individual subject","x":0.398,"y":0.159},{"s":"G7","t":"Individual subject","x":0.506,"y":0.213},{"s":"G7","t":"Individual subject","x":0.615,"y":0.33},{"s":"G7","t":"Individual subject","x":0.723,"y":0.446},{"s":"G7","t":"Individual subject","x":0.778,"y":0.491},{"s":"G7","t":"Individual subject","x":0.832,"y":0.545},{"s":"G7","t":"Individual subject","x":0.94,"y":0.626},{"s":"G7","t":"Individual subject","x":1.0,"y":0.68},{"s":"G7","t":"Individual subject","x":1.06,"y":0.765},{"s":"G7","t":"Individual subject","x":1.157,"y":0.724},{"s":"G7","t":"Individual subject","x":1.211,"y":0.823},{"s":"G7","t":"Individual subject","x":1.3,"y":1.0},
      {"s":"U","t":"Mean ± STD","x":0,"y":0.267},{"s":"U","t":"Mean ± STD","x":0.073,"y":0.338},{"s":"U","t":"Mean ± STD","x":0.18,"y":0.383},{"s":"U","t":"Mean ± STD","x":0.29,"y":0.428},{"s":"U","t":"Mean ± STD","x":0.398,"y":0.509},{"s":"U","t":"Mean ± STD","x":0.506,"y":0.608},{"s":"U","t":"Mean ± STD","x":0.615,"y":0.688},{"s":"U","t":"Mean ± STD","x":0.723,"y":0.76},{"s":"U","t":"Mean ± STD","x":0.832,"y":0.823},{"s":"U","t":"Mean ± STD","x":0.94,"y":0.868},{"s":"U","t":"Mean ± STD","x":1.049,"y":0.922},{"s":"U","t":"Mean ± STD","x":1.146,"y":0.984},{"s":"U","t":"Mean ± STD","x":1.211,"y":0.993},{"s":"U","t":"Mean ± STD","x":1.3,"y":1.0},
      {"s":"L","t":"Mean ± STD","x":0,"y":0.0},{"s":"L","t":"Mean ± STD","x":0.127,"y":0.038},{"s":"L","t":"Mean ± STD","x":0.29,"y":0.105},{"s":"L","t":"Mean ± STD","x":0.398,"y":0.15},{"s":"L","t":"Mean ± STD","x":0.485,"y":0.213},{"s":"L","t":"Mean ± STD","x":0.582,"y":0.32},{"s":"L","t":"Mean ± STD","x":0.69,"y":0.428},{"s":"L","t":"Mean ± STD","x":0.788,"y":0.482},{"s":"L","t":"Mean ± STD","x":0.875,"y":0.581},{"s":"L","t":"Mean ± STD","x":0.94,"y":0.612},{"s":"L","t":"Mean ± STD","x":0.995,"y":0.662},{"s":"L","t":"Mean ± STD","x":1.07,"y":0.769},{"s":"L","t":"Mean ± STD","x":1.103,"y":0.81},{"s":"L","t":"Mean ± STD","x":1.19,"y":0.805},{"s":"L","t":"Mean ± STD","x":1.3,"y":1.0},
      {"s":"M","t":"Mean curve","x":0,"y":0.127},{"s":"M","t":"Mean curve","x":0.073,"y":0.163},{"s":"M","t":"Mean curve","x":0.17,"y":0.213},{"s":"M","t":"Mean curve","x":0.29,"y":0.276},{"s":"M","t":"Mean curve","x":0.398,"y":0.338},{"s":"M","t":"Mean curve","x":0.485,"y":0.392},{"s":"M","t":"Mean curve","x":0.56,"y":0.464},{"s":"M","t":"Mean curve","x":0.669,"y":0.536},{"s":"M","t":"Mean curve","x":0.745,"y":0.599},{"s":"M","t":"Mean curve","x":0.8,"y":0.626},{"s":"M","t":"Mean curve","x":0.875,"y":0.706},{"s":"M","t":"Mean curve","x":0.951,"y":0.733},{"s":"M","t":"Mean curve","x":1.005,"y":0.787},{"s":"M","t":"Mean curve","x":1.08,"y":0.859},{"s":"M","t":"Mean curve","x":1.18,"y":0.908},{"s":"M","t":"Mean curve","x":1.22,"y":0.93},{"s":"M","t":"Mean curve","x":1.3,"y":1.0}
    ]
  },
  "concat": [
    {
      "width": 481, "height": 406,
      "layer": [
        {
          "data": {"name": "A"},
          "mark": {"type": "line", "clip": true},
          "encoding": {
            "x": {"field": "x", "type": "quantitative", "scale": {"domain": [0, 1.3], "nice": false, "zero": false}, "axis": {"values": [0, 0.5, 1], "format": "~g", "title": null}},
            "y": {"field": "y", "type": "quantitative", "scale": {"domain": [0, 1.1], "nice": false, "zero": false}, "axis": {"values": [0, 0.2, 0.4, 0.6, 0.8, 1.0], "format": ".1f", "title": "Normalized ARV", "titlePadding": 14}},
            "detail": {"field": "s"},
            "color": {"field": "t", "type": "nominal", "scale": {"domain": ["Mean curve", "Mean ± STD", "Individual subject"], "range": ["#000000", "#000000", "#8c8c8c"]}, "legend": {"orient": "none", "legendX": 211, "legendY": 264, "title": null}},
            "strokeDash": {"field": "t", "type": "nominal", "scale": {"domain": ["Mean curve", "Mean ± STD", "Individual subject"], "range": [[1, 0], [3.4, 3.4], [1, 0]]}, "legend": {"orient": "none", "legendX": 211, "legendY": 264, "title": null}},
            "strokeWidth": {"field": "t", "type": "nominal", "scale": {"type": "ordinal", "domain": ["Mean curve", "Mean ± STD", "Individual subject"], "range": [3.6, 3.2, 2.4]}, "legend": {"orient": "none", "legendX": 211, "legendY": 264, "title": null}}
          }
        },
        {
          "data": {"values": [{"p": "A)"}]},
          "mark": {"type": "text", "fontSize": 30, "fontWeight": "bold", "font": "Liberation Sans", "align": "left", "baseline": "alphabetic", "color": "#000000"},
          "encoding": {"x": {"datum": -0.37, "type": "quantitative"}, "y": {"datum": 1.019, "type": "quantitative"}, "text": {"field": "p"}}
        }
      ]
    },
    {
      "width": 481, "height": 406,
      "layer": [
        {
          "data": {"name": "B"},
          "mark": {"type": "line", "clip": true},
          "encoding": {
            "x": {"field": "x", "type": "quantitative", "scale": {"domain": [0, 1.3], "nice": false, "zero": false}, "axis": {"values": [0, 0.5, 1], "format": "~g", "title": null}},
            "y": {"field": "y", "type": "quantitative", "scale": {"domain": [0.9, 1.2], "nice": false, "zero": false}, "axis": {"values": [0.9, 0.95, 1.0, 1.05, 1.1, 1.15], "labelExpr": "(datum.value == 0.95 || datum.value == 1.05 || datum.value == 1.15) ? '' : format(datum.value, '.1f')", "title": "Normalized MNF", "titlePadding": 16}},
            "detail": {"field": "s"},
            "color": {"field": "t", "type": "nominal", "scale": {"domain": ["Mean curve", "Mean ± STD", "Individual subject"], "range": ["#000000", "#000000", "#8c8c8c"]}, "legend": {"orient": "none", "legendX": 213, "legendY": -3, "title": null}},
            "strokeDash": {"field": "t", "type": "nominal", "scale": {"domain": ["Mean curve", "Mean ± STD", "Individual subject"], "range": [[1, 0], [3.4, 3.4], [1, 0]]}, "legend": {"orient": "none", "legendX": 213, "legendY": -3, "title": null}},
            "strokeWidth": {"field": "t", "type": "nominal", "scale": {"type": "ordinal", "domain": ["Mean curve", "Mean ± STD", "Individual subject"], "range": [3.6, 3.2, 2.4]}, "legend": {"orient": "none", "legendX": 213, "legendY": -3, "title": null}}
          }
        },
        {
          "data": {"values": [{"p": "B)"}]},
          "mark": {"type": "text", "fontSize": 30, "fontWeight": "bold", "font": "Liberation Sans", "align": "left", "baseline": "alphabetic", "color": "#000000"},
          "encoding": {"x": {"datum": -0.2757, "type": "quantitative"}, "y": {"datum": 1.177, "type": "quantitative"}, "text": {"field": "p"}}
        }
      ]
    },
    {
      "width": 481, "height": 406,
      "layer": [
        {
          "data": {"name": "C"},
          "mark": {"type": "line", "clip": true},
          "encoding": {
            "x": {"field": "x", "type": "quantitative", "scale": {"domain": [0, 1.3], "nice": false, "zero": false}, "axis": {"values": [0, 0.5, 1], "format": "~g", "title": "Normalized stimulation amplitude", "titleX": 253, "titlePadding": 4}},
            "y": {"field": "y", "type": "quantitative", "scale": {"domain": [0.8, 1.1], "nice": false, "zero": false}, "axis": {"values": [0.8, 0.85, 0.9, 0.95, 1.0, 1.05, 1.1], "labelExpr": "(datum.value == 0.85 || datum.value == 0.95 || datum.value == 1.05) ? '' : format(datum.value, '.1f')", "title": "Normalized CV", "titlePadding": 27}},
            "detail": {"field": "s"},
            "color": {"field": "t", "type": "nominal", "scale": {"domain": ["Mean curve", "Mean ± STD", "Individual subject"], "range": ["#000000", "#000000", "#8c8c8c"]}, "legend": {"orient": "none", "legendX": 211, "legendY": 284, "title": null}},
            "strokeDash": {"field": "t", "type": "nominal", "scale": {"domain": ["Mean curve", "Mean ± STD", "Individual subject"], "range": [[1, 0], [3.4, 3.4], [1, 0]]}, "legend": {"orient": "none", "legendX": 211, "legendY": 284, "title": null}},
            "strokeWidth": {"field": "t", "type": "nominal", "scale": {"type": "ordinal", "domain": ["Mean curve", "Mean ± STD", "Individual subject"], "range": [3.6, 3.2, 2.4]}, "legend": {"orient": "none", "legendX": 211, "legendY": 284, "title": null}}
          }
        },
        {
          "data": {"values": [{"p": "C)"}]},
          "mark": {"type": "text", "fontSize": 30, "fontWeight": "bold", "font": "Liberation Sans", "align": "left", "baseline": "alphabetic", "color": "#000000"},
          "encoding": {"x": {"datum": -0.376, "type": "quantitative"}, "y": {"datum": 1.089, "type": "quantitative"}, "text": {"field": "p"}}
        }
      ]
    },
    {
      "width": 481, "height": 406,
      "layer": [
        {
          "data": {"name": "D"},
          "mark": {"type": "line", "clip": true},
          "encoding": {
            "x": {"field": "x", "type": "quantitative", "scale": {"domain": [0, 1.3], "nice": false, "zero": false}, "axis": {"values": [0, 0.5, 1], "format": "~g", "title": "Normalized stimulation amplitude", "titleX": 253, "titlePadding": 4}},
            "y": {"field": "y", "type": "quantitative", "scale": {"domain": [0, 1.1], "nice": false, "zero": false}, "axis": {"values": [0, 0.4, 0.8, 1.0], "format": ".1f", "title": "Normalized Force", "titlePadding": 12}},
            "detail": {"field": "s"},
            "color": {"field": "t", "type": "nominal", "scale": {"domain": ["Mean curve", "Mean ± STD", "Individual subject"], "range": ["#000000", "#000000", "#8c8c8c"]}, "legend": {"orient": "none", "legendX": 22, "legendY": -12, "title": null}},
            "strokeDash": {"field": "t", "type": "nominal", "scale": {"domain": ["Mean curve", "Mean ± STD", "Individual subject"], "range": [[1, 0], [3.4, 3.4], [1, 0]]}, "legend": {"orient": "none", "legendX": 22, "legendY": -12, "title": null}},
            "strokeWidth": {"field": "t", "type": "nominal", "scale": {"type": "ordinal", "domain": ["Mean curve", "Mean ± STD", "Individual subject"], "range": [3.6, 3.2, 2.4]}, "legend": {"orient": "none", "legendX": 22, "legendY": -12, "title": null}}
          }
        },
        {
          "data": {"values": [{"p": "D)"}]},
          "mark": {"type": "text", "fontSize": 30, "fontWeight": "bold", "font": "Liberation Sans", "align": "left", "baseline": "alphabetic", "color": "#000000"},
          "encoding": {"x": {"datum": -0.2797, "type": "quantitative"}, "y": {"datum": 1.059, "type": "quantitative"}, "text": {"field": "p"}}
        }
      ]
    }
  ]
}
